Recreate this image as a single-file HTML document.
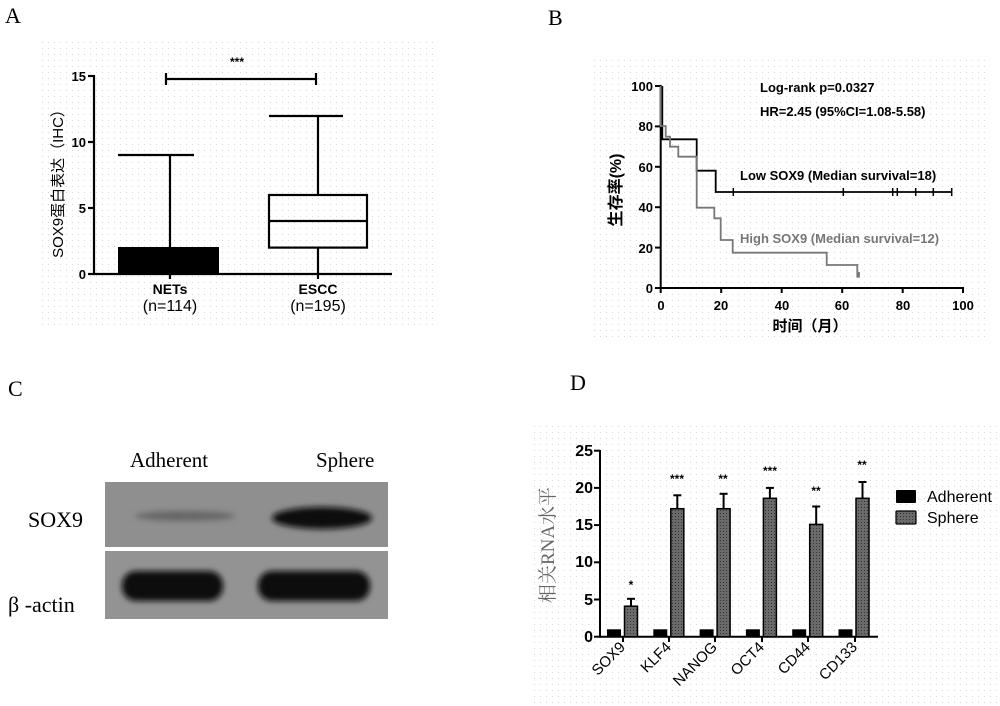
<!DOCTYPE html>
<html><head><meta charset="utf-8"><style>
html,body{margin:0;padding:0;background:#fff}
svg{display:block}
.s{font-family:"Liberation Sans","Noto Sans CJK SC",sans-serif}
.r{font-family:"Liberation Serif","Noto Serif CJK SC",serif}
</style></head><body>
<svg width="1000" height="706" viewBox="0 0 1000 706" xmlns="http://www.w3.org/2000/svg">
<defs>
<pattern id="dots" width="6" height="6" patternUnits="userSpaceOnUse"><rect x="0" y="0" width="1" height="1" fill="#d8d8d8"/></pattern>
<pattern id="hatch" width="3" height="3" patternUnits="userSpaceOnUse"><rect width="3" height="3" fill="#6a6a6a"/><rect width="1" height="1" fill="#333"/></pattern>
<filter id="blur" x="-20%" y="-50%" width="140%" height="200%"><feGaussianBlur stdDeviation="3"/></filter>
</defs>
<rect x="40" y="40" width="397" height="290" fill="url(#dots)"/>
<rect x="590" y="60" width="400" height="280" fill="url(#dots)"/>
<rect x="530" y="422" width="470" height="284" fill="url(#dots)"/>

<!-- Panel A -->
<text x="5" y="23" class="r" font-size="22">A</text>
<g stroke="#000" stroke-width="2.2" fill="none">
<line x1="94" y1="75" x2="94" y2="275"/>
<line x1="93" y1="274" x2="392" y2="274"/>
<line x1="88" y1="76" x2="94" y2="76"/><line x1="88" y1="142" x2="94" y2="142"/><line x1="88" y1="208" x2="94" y2="208"/><line x1="88" y1="274" x2="94" y2="274"/>
<line x1="170" y1="274" x2="170" y2="279"/><line x1="318" y1="274" x2="318" y2="279"/>
<line x1="170" y1="155" x2="170" y2="248"/><line x1="118" y1="155" x2="194" y2="155"/>
<rect x="269" y="195" width="98" height="52.6"/>
<line x1="269" y1="221" x2="367" y2="221"/>
<line x1="318" y1="116" x2="318" y2="195"/><line x1="269" y1="116" x2="343" y2="116"/>
<line x1="318" y1="248" x2="318" y2="274"/>
<line x1="166" y1="79" x2="316" y2="79"/><line x1="166" y1="73" x2="166" y2="85"/><line x1="316" y1="73" x2="316" y2="85"/>
</g>
<rect x="118" y="247" width="101" height="27" fill="#000"/>
<text x="237" y="66" class="s" font-size="12" font-weight="bold" text-anchor="middle">***</text>
<g class="s" font-size="13" font-weight="bold" text-anchor="end">
<text x="86" y="81">15</text><text x="86" y="147">10</text><text x="86" y="213">5</text><text x="86" y="279">0</text>
</g>
<text x="170" y="294" class="s" font-size="14" font-weight="bold" text-anchor="middle">NETs</text>
<text x="170" y="311" class="s" font-size="16" text-anchor="middle">(n=114)</text>
<text x="318" y="294" class="s" font-size="14" font-weight="bold" text-anchor="middle">ESCC</text>
<text x="318" y="311" class="s" font-size="16" text-anchor="middle">(n=195)</text>
<text transform="translate(63,180) rotate(-90)" class="s" font-size="15" text-anchor="middle">SOX9蛋白表达（IHC）</text>

<!-- Panel B -->
<text x="548" y="25" class="r" font-size="22">B</text>
<g stroke="#000" stroke-width="2" fill="none">
<line x1="660.7" y1="85" x2="660.7" y2="289"/>
<line x1="660" y1="288" x2="964" y2="288"/>
<line x1="655" y1="86" x2="661" y2="86"/><line x1="655" y1="126.4" x2="661" y2="126.4"/><line x1="655" y1="166.8" x2="661" y2="166.8"/><line x1="655" y1="207.2" x2="661" y2="207.2"/><line x1="655" y1="247.6" x2="661" y2="247.6"/><line x1="655" y1="288" x2="661" y2="288"/>
<line x1="721.2" y1="288" x2="721.2" y2="293"/><line x1="781.7" y1="288" x2="781.7" y2="293"/><line x1="842.2" y1="288" x2="842.2" y2="293"/><line x1="902.7" y1="288" x2="902.7" y2="293"/><line x1="963" y1="288" x2="963" y2="293"/><line x1="660.7" y1="288" x2="660.7" y2="293"/>
<polyline points="662.3,86 662.3,139.3 696.7,139.3 696.7,170.7 715.7,170.7 715.7,192 951.7,192" stroke-width="1.8"/>
<g stroke-width="1.5"><line x1="733.3" y1="188" x2="733.3" y2="196"/><line x1="843.3" y1="188" x2="843.3" y2="196"/><line x1="892.7" y1="188" x2="892.7" y2="196"/><line x1="897.3" y1="188" x2="897.3" y2="196"/><line x1="915.7" y1="188" x2="915.7" y2="196"/><line x1="933.3" y1="188" x2="933.3" y2="196"/><line x1="951.7" y1="188" x2="951.7" y2="196"/></g>
<polyline stroke="#777" stroke-width="1.8" points="660.7,86 660.7,126 665.7,126 665.7,136.7 670,136.7 670,146.7 678.3,146.7 678.3,156.7 696.7,156.7 696.7,207.7 714.3,207.7 714.3,218.3 720.7,218.3 720.7,240 732.7,240 732.7,252.7 826.7,252.7 826.7,265 857.3,265 857.3,276.7 859,276.7 859,272"/>
</g>
<g class="s" font-size="13" font-weight="bold" text-anchor="end">
<text x="653" y="91">100</text><text x="653" y="131">80</text><text x="653" y="172">60</text><text x="653" y="212">40</text><text x="653" y="253">20</text><text x="653" y="293">0</text>
</g>
<g class="s" font-size="13" font-weight="bold" text-anchor="middle">
<text x="661" y="310">0</text><text x="721" y="310">20</text><text x="782" y="310">40</text><text x="842" y="310">60</text><text x="903" y="310">80</text><text x="963" y="310">100</text>
</g>
<text x="810" y="331" class="s" font-size="15" font-weight="bold" text-anchor="middle">时间（月）</text>
<text transform="translate(621,190) rotate(-90)" class="s" font-size="16" font-weight="bold" text-anchor="middle">生存率(%)</text>
<text x="760" y="92" class="s" font-size="13" font-weight="bold">Log-rank p=0.0327</text>
<text x="760" y="116" class="s" font-size="13" font-weight="bold">HR=2.45 (95%CI=1.08-5.58)</text>
<text x="740" y="180" class="s" font-size="13" font-weight="bold">Low SOX9 (Median survival=18)</text>
<text x="740" y="243" class="s" font-size="13" font-weight="bold" fill="#777">High SOX9 (Median survival=12)</text>

<!-- Panel C -->
<text x="8" y="396" class="r" font-size="22">C</text>
<text x="130" y="467" class="r" font-size="21">Adherent</text>
<text x="316" y="467" class="r" font-size="21">Sphere</text>
<rect x="105" y="482" width="283" height="65" fill="#8f8f8f"/>
<rect x="105" y="551" width="283" height="68" fill="#939393"/>
<ellipse cx="185" cy="516" rx="50" ry="5" fill="#666" filter="url(#blur)"/>
<ellipse cx="322" cy="518" rx="50" ry="11" fill="#111" filter="url(#blur)"/>
<rect x="122" y="571" width="101" height="30" rx="14" fill="#080808" filter="url(#blur)"/>
<rect x="258" y="571" width="112" height="30" rx="14" fill="#080808" filter="url(#blur)"/>
<text x="28" y="527" class="r" font-size="22">SOX9</text>
<text x="8" y="612" class="r" font-size="22">β  -actin</text>

<!-- Panel D -->
<text x="570" y="390" class="r" font-size="22">D</text>
<g stroke="#000" stroke-width="2" fill="none">
<line x1="600" y1="450" x2="600" y2="637.7"/>
<line x1="599" y1="636.7" x2="878" y2="636.7"/>
<line x1="594" y1="450.7" x2="600" y2="450.7"/><line x1="594" y1="487.9" x2="600" y2="487.9"/><line x1="594" y1="525.1" x2="600" y2="525.1"/><line x1="594" y1="562.3" x2="600" y2="562.3"/><line x1="594" y1="599.5" x2="600" y2="599.5"/><line x1="594" y1="636.7" x2="600" y2="636.7"/>
<line x1="623" y1="637" x2="623" y2="642"/><line x1="669" y1="637" x2="669" y2="642"/><line x1="715" y1="637" x2="715" y2="642"/><line x1="762" y1="637" x2="762" y2="642"/><line x1="808" y1="637" x2="808" y2="642"/><line x1="855" y1="637" x2="855" y2="642"/>
</g>
<g fill="#000">
<rect x="607" y="629.3" width="14" height="7.4"/><rect x="653.3" y="629.3" width="14" height="7.4"/><rect x="699.6" y="629.3" width="14" height="7.4"/><rect x="745.9" y="629.3" width="14" height="7.4"/><rect x="792.2" y="629.3" width="14" height="7.4"/><rect x="838.5" y="629.3" width="14" height="7.4"/>
</g>
<g fill="url(#hatch)" stroke="#000" stroke-width="1.5">
<rect x="624.5" y="606.2" width="13" height="30.5"/>
<rect x="670.8" y="508.7" width="13" height="128"/>
<rect x="717.1" y="508.7" width="13" height="128"/>
<rect x="763.4" y="498.3" width="13" height="138.4"/>
<rect x="809.7" y="524.4" width="13" height="112.3"/>
<rect x="856" y="498.3" width="13" height="138.4"/>
</g>
<g stroke="#000" stroke-width="2">
<line x1="631" y1="598.8" x2="631" y2="606"/><line x1="627" y1="598.8" x2="635" y2="598.8"/>
<line x1="677.3" y1="495.3" x2="677.3" y2="508"/><line x1="673.3" y1="495.3" x2="681.3" y2="495.3"/>
<line x1="723.6" y1="493.8" x2="723.6" y2="508"/><line x1="719.6" y1="493.8" x2="727.6" y2="493.8"/>
<line x1="769.9" y1="487.9" x2="769.9" y2="498"/><line x1="765.9" y1="487.9" x2="773.9" y2="487.9"/>
<line x1="816.2" y1="506.5" x2="816.2" y2="524"/><line x1="812.2" y1="506.5" x2="820.2" y2="506.5"/>
<line x1="862.5" y1="482" x2="862.5" y2="498"/><line x1="858.5" y1="482" x2="866.5" y2="482"/>
</g>
<g class="s" font-size="12" font-weight="bold" text-anchor="middle">
<text x="631" y="589">*</text><text x="677" y="483">***</text><text x="723" y="483">**</text><text x="770" y="475">***</text><text x="816" y="495">**</text><text x="862" y="469">**</text>
</g>
<g class="s" font-size="16" font-weight="bold" text-anchor="end">
<text x="593" y="456">25</text><text x="593" y="493">20</text><text x="593" y="530">15</text><text x="593" y="567">10</text><text x="593" y="605">5</text><text x="593" y="642">0</text>
</g>
<g class="s" font-size="15" text-anchor="end">
<text transform="translate(626,648) rotate(-45)">SOX9</text>
<text transform="translate(672,648) rotate(-45)">KLF4</text>
<text transform="translate(718,648) rotate(-45)">NANOG</text>
<text transform="translate(765,648) rotate(-45)">OCT4</text>
<text transform="translate(811,648) rotate(-45)">CD44</text>
<text transform="translate(858,648) rotate(-45)">CD133</text>
</g>
<text transform="translate(554,545) rotate(-90)" class="r" font-size="19" fill="#666" text-anchor="middle">相关RNA水平</text>
<rect x="896" y="490" width="20" height="13" fill="#000" rx="1"/>
<rect x="896" y="511" width="20" height="13" fill="url(#hatch)" stroke="#000" stroke-width="1.2" rx="1"/>
<text x="927" y="502" class="s" font-size="16">Adherent</text>
<text x="927" y="523" class="s" font-size="16">Sphere</text>
</svg>
</body></html>
